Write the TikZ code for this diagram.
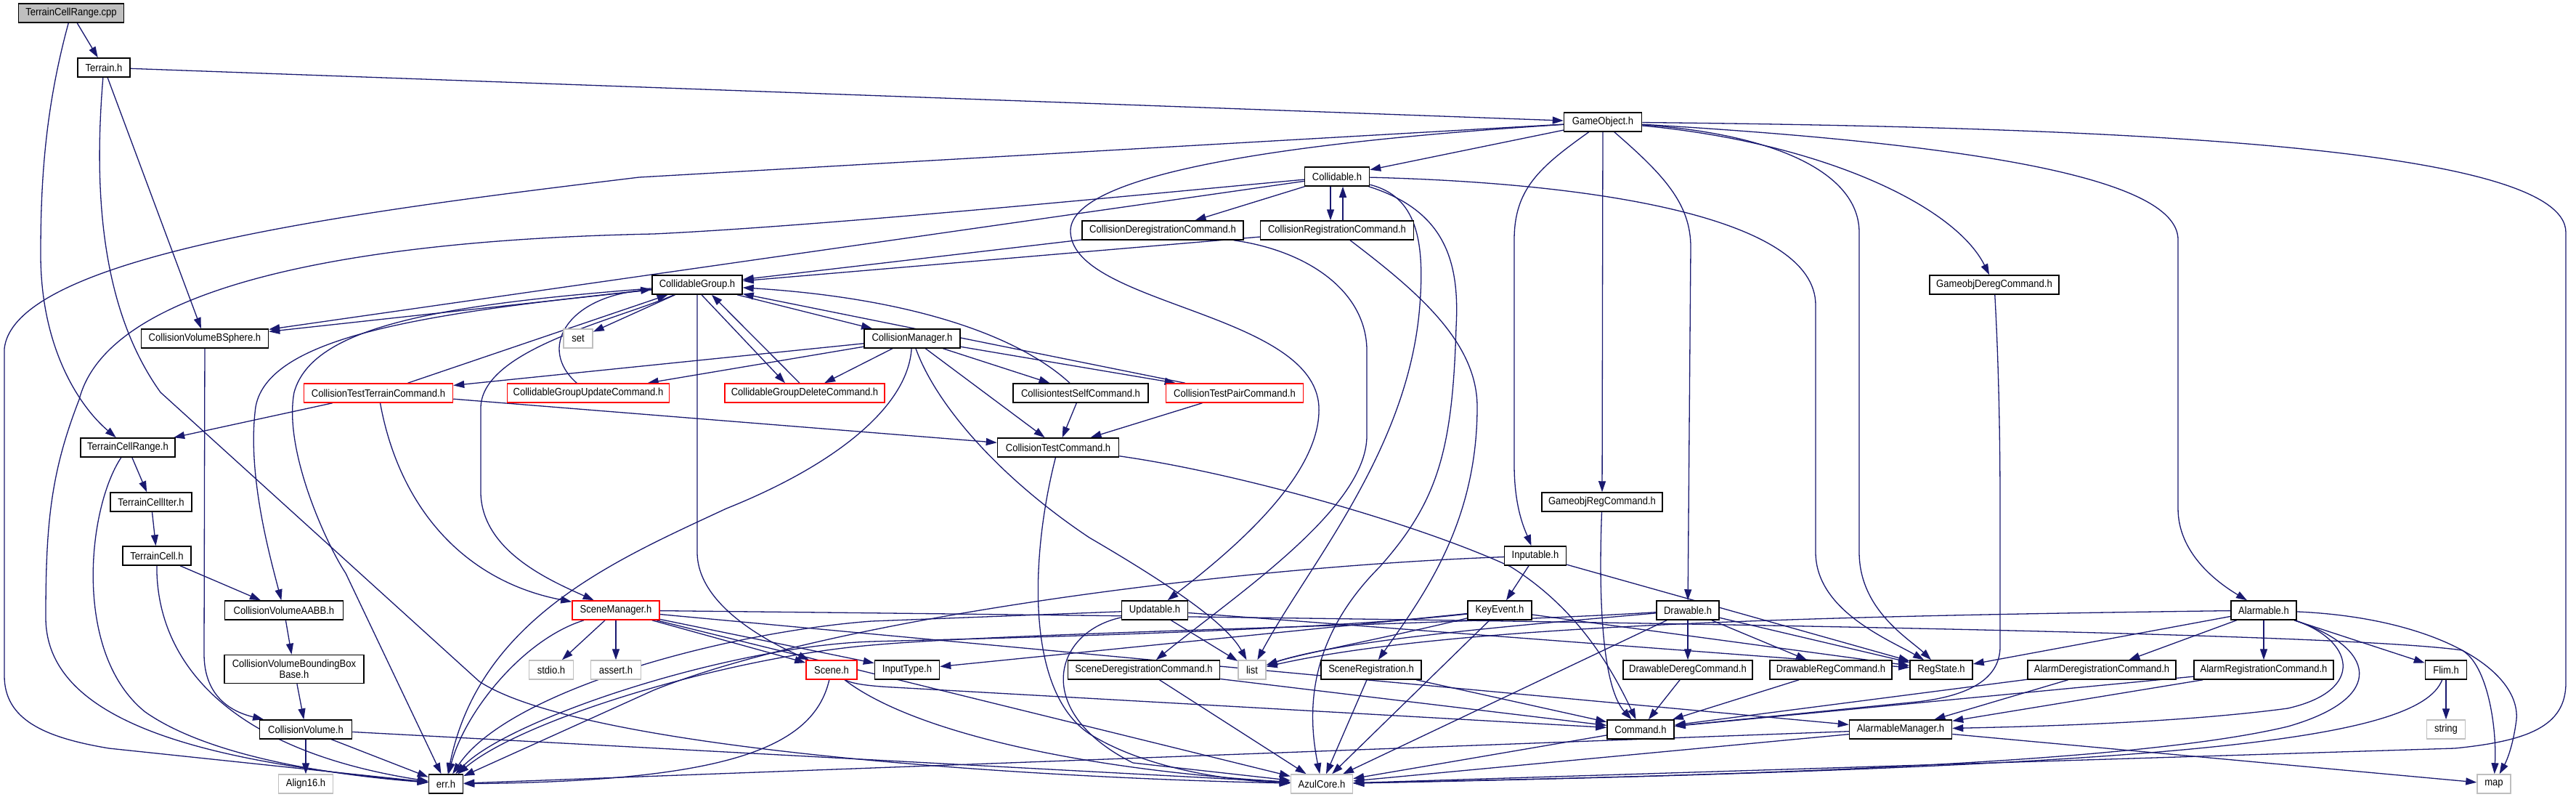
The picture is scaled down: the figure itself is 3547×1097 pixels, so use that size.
\documentclass[tikz,border=0pt]{standalone}
\usepackage{fontspec}
\usetikzlibrary{arrows.meta}
\newfontfamily\dxfam{Liberation Sans}[FakeStretch=0.9]
\newcommand\dxfont{\dxfam\fontsize{14.5}{15.5}\selectfont}
\definecolor{edgeblue}{HTML}{191970}
\definecolor{extgray}{HTML}{BFBFBF}
\definecolor{rootgray}{HTML}{BFBFBF}
\pgfdeclarelayer{back}
\pgfdeclarelayer{bg}
\pgfsetlayers{back,bg,main}
\tikzset{
 nd/.style={draw=black, line width=1.5pt, fill=white, inner sep=0pt, minimum height=26pt, font=\dxfont, text=black},
 rednd/.style={nd, draw=red},
 ext/.style={nd, draw=extgray},
 rootnd/.style={nd, fill=rootgray},
 edg/.style={draw=edgeblue, line width=1.3pt, -{Triangle[length=15pt,width=10pt]}},
}
\begin{document}
\begin{tikzpicture}[x=1pt,y=-1pt]
\useasboundingbox (0,0) rectangle (3547,1097);
\begin{pgfonlayer}{back}
\fill[white] (0,0) rectangle (3547,1097);
\end{pgfonlayer}
% nodes
\node[rootnd, minimum width=145pt] (cpp) at (98,18) {TerrainCellRange.cpp};
\node[nd, minimum width=72pt] (terrain) at (143,93) {Terrain.h};
\node[nd, minimum width=107pt] (gameobj) at (2207,168) {GameObject.h};
\node[nd, minimum width=89pt] (collidable) at (1841,243) {Collidable.h};
\node[nd, minimum width=222pt] (cdereg) at (1601,317) {CollisionDeregistrationCommand.h};
\node[nd, minimum width=211pt] (creg) at (1841,317) {CollisionRegistrationCommand.h};
\node[nd, minimum width=124pt] (cgroup) at (960,392) {CollidableGroup.h};
\node[nd, minimum width=178pt] (gdereg) at (2746,392) {GameobjDeregCommand.h};
\node[nd, minimum width=175pt] (bsphere) at (282,466) {CollisionVolumeBSphere.h};
\node[ext, minimum width=40pt] (set) at (796,466) {set};
\node[nd, minimum width=132pt] (cmgr) at (1256,466) {CollisionManager.h};
\node[rednd, minimum width=205pt] (ctterrain) at (521,541) {CollisionTestTerrainCommand.h};
\node[rednd, minimum width=223pt] (cgupdate) at (810,541) {CollidableGroupUpdateCommand.h};
\node[rednd, minimum width=220pt] (cgdelete) at (1108,541) {CollidableGroupDeleteCommand.h};
\node[nd, minimum width=186pt] (ctself) at (1488,541) {CollisiontestSelfCommand.h};
\node[rednd, minimum width=189pt] (ctpair) at (1700,541) {CollisionTestPairCommand.h};
\node[nd, minimum width=130pt] (tcrange) at (176,616) {TerrainCellRange.h};
\node[nd, minimum width=167pt] (ctcmd) at (1457,616) {CollisionTestCommand.h};
\node[nd, minimum width=112pt] (tciter) at (208,691) {TerrainCellIter.h};
\node[nd, minimum width=166pt] (gregcmd) at (2206,691) {GameobjRegCommand.h};
\node[nd, minimum width=94pt] (tcell) at (216,765) {TerrainCell.h};
\node[nd, minimum width=85pt] (inputable) at (2114,765) {Inputable.h};
\node[nd, minimum width=163pt] (aabb) at (391,840) {CollisionVolumeAABB.h};
\node[rednd, minimum width=120pt] (scenemgr) at (848,840) {SceneManager.h};
\node[nd, minimum width=91pt] (updatable) at (1590,840) {Updatable.h};
\node[nd, minimum width=88pt] (keyevent) at (2065,840) {KeyEvent.h};
\node[nd, minimum width=86pt] (drawable) at (2324,840) {Drawable.h};
\node[nd, minimum width=90pt] (alarmable) at (3117,840) {Alarmable.h};
\node[nd, minimum width=192pt, minimum height=39pt, align=center] (bbbase) at (405,921) {CollisionVolumeBoundingBox\\Base.h};
\node[ext, minimum width=61pt] (stdio) at (759,922) {stdio.h};
\node[ext, minimum width=69pt] (assert) at (848,922) {assert.h};
\node[rednd, minimum width=70pt] (scene) at (1145,922) {Scene.h};
\node[nd, minimum width=89pt] (inputtype) at (1249,922) {InputType.h};
\node[nd, minimum width=209pt] (scenedereg) at (1575,922) {SceneDeregistrationCommand.h};
\node[ext, minimum width=38pt] (list) at (1724,922) {list};
\node[nd, minimum width=138pt] (sceneregn) at (1888,922) {SceneRegistration.h};
\node[nd, minimum width=178pt] (ddereg) at (2324,922) {DrawableDeregCommand.h};
\node[nd, minimum width=168pt] (dreg) at (2521,922) {DrawableRegCommand.h};
\node[nd, minimum width=86pt] (regstate) at (2673,922) {RegState.h};
\node[nd, minimum width=204pt] (aldereg) at (2894,922) {AlarmDeregistrationCommand.h};
\node[nd, minimum width=192pt] (alreg) at (3117,922) {AlarmRegistrationCommand.h};
\node[nd, minimum width=57pt] (flim) at (3368,922) {Flim.h};
\node[nd, minimum width=127pt] (cvol) at (421,1004) {CollisionVolume.h};
\node[nd, minimum width=92pt] (command) at (2259,1004) {Command.h};
\node[nd, minimum width=141pt] (almgr) at (2617,1004) {AlarmableManager.h};
\node[ext, minimum width=53pt] (string) at (3368,1004) {string};
\node[ext, minimum width=75pt] (align) at (421,1079) {Align16.h};
\node[nd, minimum width=47pt] (err) at (614,1079) {err.h};
\node[ext, minimum width=85pt] (azul) at (1820,1079) {AzulCore.h};
\node[ext, minimum width=46pt] (map) at (3434,1079) {map};
% edges
\begin{pgfonlayer}{bg}
\draw[edg] (cpp) -- (terrain);
\draw[edg] (cpp) .. controls (62,150) and (56,250) .. (56,350) .. controls (56,480) and (110,560) .. (tcrange);
\draw[edg] (terrain) -- (gameobj);
\draw[edg] (terrain) -- (bsphere);
\draw[edg] (terrain) .. controls (130,250) and (135,420) .. (221,540) -- (660,938) .. controls (800,1030) and (1400,1070) .. (azul);
\draw[edg] (gameobj) -- (collidable);
\draw[edg] (gameobj) -- (880,244) .. controls (500,290) and (20,350) .. (6,480) -- (6,930) .. controls (6,990) and (60,1015) .. (150,1030) -- (err);
\draw[edg] (gameobj) .. controls (1700,200) and (1470,250) .. (1474,320) .. controls (1480,420) and (1810,430) .. (1816,560) .. controls (1820,660) and (1680,770) .. (updatable);
\draw[edg] (gameobj) .. controls (2120,230) and (2085,260) .. (2085,330) -- (2085,640) .. controls (2085,700) and (2100,730) .. (inputable);
\draw[edg] (gameobj) -- (gregcmd);
\draw[edg] (gameobj) .. controls (2290,240) and (2328,280) .. (2328,340) -- (drawable);
\draw[edg] (gameobj) .. controls (2450,185) and (2560,240) .. (2560,320) -- (2560,760) .. controls (2560,840) and (2630,880) .. (regstate);
\draw[edg] (gameobj) .. controls (2500,195) and (2690,280) .. (gdereg);
\draw[edg] (gameobj) .. controls (2750,200) and (2999,250) .. (2999,330) -- (2999,700) .. controls (2999,760) and (3050,800) .. (alarmable);
\draw[edg] (gameobj) .. controls (2900,175) and (3533,200) .. (3533,320) -- (3533,940) .. controls (3533,1000) and (3480,1020) .. (3380,1030) -- (azul);
\draw[edg] (collidable) -- (cdereg);
\draw[edg] ([xshift=-9pt]collidable.south) -- ([xshift=-9pt]creg.north);
\draw[edg] ([xshift=8pt]creg.north) -- ([xshift=8pt]collidable.south);
\draw[edg] (collidable) .. controls (1600,265) and (1150,310) .. (900,322) .. controls (500,330) and (150,390) .. (109,550) .. controls (70,650) and (63,720) .. (63,850) .. controls (63,1000) and (300,1050) .. (err);
\draw[edg] (collidable) -- (bsphere);
\draw[edg] (collidable) .. controls (2200,252) and (2500,300) .. (2500,420) -- (2500,760) .. controls (2500,840) and (2600,880) .. (regstate);
\draw[edg] (collidable) .. controls (1950,270) and (1962,330) .. (1955,420) .. controls (1940,620) and (1800,780) .. (list);
\draw[edg] (collidable) .. controls (1990,290) and (2010,360) .. (2005,450) .. controls (2000,620) and (1980,690) .. (1900,780) .. controls (1800,880) and (1800,980) .. (azul);
\draw[edg] (cdereg) -- (cgroup);
\draw[edg] (creg) -- (cgroup);
\draw[edg] (cdereg) .. controls (1800,345) and (1880,400) .. (1882,480) -- (1882,600) .. controls (1882,700) and (1700,820) .. (scenedereg);
\draw[edg] (creg) .. controls (1950,400) and (2034,470) .. (2034,560) .. controls (2034,720) and (1960,820) .. (sceneregn);
\draw[edg] (cgroup) -- (bsphere);
\draw[edg] (cgroup) -- (set);
\draw[edg] (cgroup) -- (cmgr);
\draw[edg] ([xshift=6pt]cgroup.south) -- ([xshift=-27pt]cgdelete.north);
\draw[edg] ([xshift=-7pt]cgdelete.north) -- ([xshift=20pt]cgroup.south);
\draw[edg] (cgroup) .. controls (850,440) and (665,480) .. (662,560) -- (662,680) .. controls (665,760) and (760,800) .. (scenemgr);
\draw[edg] (cgroup) -- (960,760) .. controls (960,830) and (1050,880) .. (scene);
\draw[edg] (cgroup) .. controls (600,420) and (430,450) .. (405,540) .. controls (390,620) and (450,750) .. (476,789) -- (err);
\draw[edg] (cgroup) .. controls (600,430) and (370,460) .. (352,560) .. controls (340,650) and (370,760) .. (aabb);
\draw[edg] (cmgr) -- (ctterrain);
\draw[edg] (cmgr) -- (cgupdate);
\draw[edg] (cmgr) -- (cgdelete);
\draw[edg] (cmgr) .. controls (1250,560) and (1150,640) .. (1000,700) .. controls (850,770) and (660,850) .. (err);
\draw[edg] (cmgr) .. controls (1290,560) and (1380,660) .. (1500,740) .. controls (1620,810) and (1690,860) .. (list);
\draw[edg] (cmgr) -- (ctcmd);
\draw[edg] (cmgr) -- (ctself);
\draw[edg] (cmgr) -- (ctpair);
\draw[edg] (ctterrain) -- (cgroup);
\draw[edg] (ctterrain) -- (tcrange);
\draw[edg] (ctterrain) .. controls (550,700) and (640,800) .. (scenemgr);
\draw[edg] (ctterrain) -- (ctcmd);
\draw[edg] (cgupdate) .. controls (740,480) and (780,410) .. (cgroup);
\draw[edg] (ctself) .. controls (1400,460) and (1250,410) .. (cgroup);
\draw[edg] (ctpair) -- (cgroup);
\draw[edg] (ctself) -- (ctcmd);
\draw[edg] (ctpair) -- (ctcmd);
\draw[edg] (ctcmd) .. controls (1700,650) and (1950,720) .. (2080,780) .. controls (2160,830) and (2210,900) .. (command);
\draw[edg] (ctcmd) .. controls (1420,760) and (1410,950) .. (1500,1010) .. controls (1580,1060) and (1700,1075) .. (azul);
\draw[edg] (tcrange) -- (tciter);
\draw[edg] (tcrange) .. controls (120,700) and (100,900) .. (200,980) .. controls (300,1050) and (500,1070) .. (err);
\draw[edg] (tciter) -- (tcell);
\draw[edg] (tcell) -- (aabb);
\draw[edg] (tcell) .. controls (215,900) and (300,1030) .. (err);
\draw[edg] (aabb) -- (bbbase);
\draw[edg] (bbbase) -- (cvol);
\draw[edg] (bsphere) -- (281,900) .. controls (281,960) and (320,980) .. (cvol);
\draw[edg] (cvol) -- (align);
\draw[edg] (cvol) -- (err);
\draw[edg] (cvol) -- (azul);
\draw[edg] (scenemgr) .. controls (720,880) and (640,980) .. (err);
\draw[edg] (scenemgr) -- (stdio);
\draw[edg] (scenemgr) -- (assert);
\draw[edg] (scenemgr) -- (scene);
\draw[edg] (scenemgr) -- (inputtype);
\draw[edg] (scenemgr) -- (azul);
\draw[edg] (scenemgr) -- (almgr);
\draw[edg] (scenemgr) .. controls (2000,852) and (3200,868) .. (3390,895) .. controls (3425,915) and (3438,1000) .. (map);
\draw[edg] (scene) .. controls (1120,1030) and (1000,1075) .. (err);
\draw[edg] (scene) .. controls (1260,1010) and (1500,1060) .. (azul);
\draw[edg] (scene) .. controls (1170,940) and (1190,944) .. (1230,946) -- (command);
\draw[edg] (inputable) -- (keyevent);
\draw[edg] (inputable) -- (regstate);
\draw[edg] (inputable) .. controls (1700,780) and (1150,850) .. (900,950) -- (err);
\draw[edg] (keyevent) -- (azul);
\draw[edg] (keyevent) -- (inputtype);
\draw[edg] (keyevent) .. controls (1900,880) and (1790,900) .. (list);
\draw[edg] (keyevent) .. controls (1800,870) and (1300,880) .. (1200,883) .. controls (1000,890) and (700,990) .. (err);
\draw[edg] (keyevent) -- (regstate);
\draw[edg] (drawable) -- (ddereg);
\draw[edg] (drawable) -- (dreg);
\draw[edg] (drawable) -- (regstate);
\draw[edg] (drawable) -- (azul);
\draw[edg] (drawable) .. controls (2100,860) and (1850,880) .. (list);
\draw[edg] (drawable) .. controls (2000,860) and (1400,870) .. (1200,888) .. controls (1000,905) and (720,990) .. (err);
\draw[edg] (updatable) -- (list);
\draw[edg] (updatable) -- (1200,855) .. controls (1000,870) and (700,950) .. (err);
\draw[edg] (updatable) .. controls (1450,870) and (1420,980) .. (1560,1050) -- (azul);
\draw[edg] (updatable) -- (regstate);
\draw[edg] (alarmable) -- (regstate);
\draw[edg] (alarmable) -- (aldereg);
\draw[edg] (alarmable) -- (alreg);
\draw[edg] (alarmable) -- (flim);
\draw[edg] (alarmable) .. controls (3350,850) and (3470,920) .. (3465,990) .. controls (3460,1030) and (3450,1050) .. (map);
\draw[edg] (alarmable) .. controls (3240,880) and (3260,950) .. (3150,975) .. controls (3000,995) and (2800,1000) .. (almgr);
\draw[edg] (alarmable) .. controls (3270,890) and (3290,960) .. (3150,1000) .. controls (2900,1060) and (2200,1070) .. (azul);
\draw[edg] (alarmable) .. controls (2500,848) and (2000,860) .. (list);
\draw[edg] (flim) .. controls (3330,1020) and (3000,1055) .. (azul);
\draw[edg] (flim) -- (string);
\draw[edg] (almgr) -- (azul);
\draw[edg] (almgr) -- (err);
\draw[edg] (almgr) -- (map);
\draw[edg] (command) -- (azul);
\draw[edg] (gregcmd) .. controls (2200,850) and (2210,950) .. (command);
\draw[edg] (gdereg) .. controls (2752,500) and (2754,600) .. (2754,700) -- (2754,890) .. controls (2754,935) and (2710,958) .. (2640,966) -- (command);
\draw[edg] (sceneregn) -- (command);
\draw[edg] (sceneregn) -- (azul);
\draw[edg] (scenedereg) -- (command);
\draw[edg] (scenedereg) -- (azul);
\draw[edg] (ddereg) -- (command);
\draw[edg] (dreg) -- (command);
\draw[edg] (aldereg) -- (command);
\draw[edg] (aldereg) -- (almgr);
\draw[edg] (alreg) -- (command);
\draw[edg] (alreg) -- (almgr);
\end{pgfonlayer}
\end{tikzpicture}
\end{document}
